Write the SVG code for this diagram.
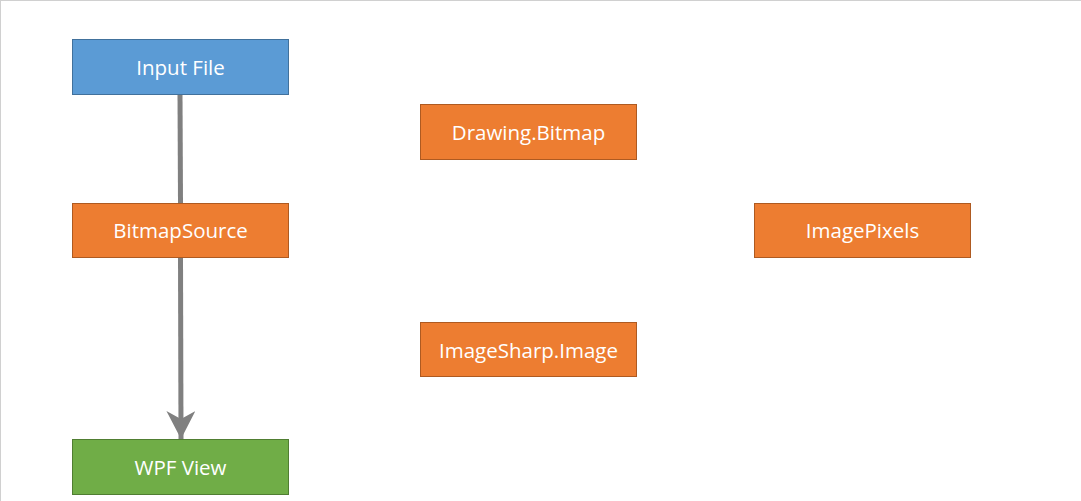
<svg xmlns="http://www.w3.org/2000/svg" width="1081" height="501" viewBox="0 0 1081 501">
  <style>
    .box { stroke-width: 1; }
    .blue { fill: #5b9bd5; stroke: #41719c; }
    .orange { fill: #ed7d31; stroke: #ae5a21; }
    .green { fill: #70ad47; stroke: #507e32; }
    .label { font-family: "Open Sans", "Liberation Sans", sans-serif; font-size: 20.5px; fill: #ffffff; text-anchor: middle; dominant-baseline: central; }
    .conn { stroke: #808080; stroke-width: 5; fill: none; }
  </style>
  <defs>
    <marker id="arrow" markerUnits="userSpaceOnUse" markerWidth="32" markerHeight="32" refX="28" refY="14.5" orient="auto">
      <path d="M0,0 L28,14.5 L0,29 L8,14.5 Z" fill="#808080"/>
    </marker>
  </defs>
  <rect x="0" y="0" width="1081" height="501" fill="#ffffff"/>
  <line x1="0" y1="0.5" x2="1081" y2="0.5" stroke="#d0d0d0" stroke-width="1"/>
  <line x1="0.5" y1="0" x2="0.5" y2="501" stroke="#d0d0d0" stroke-width="1"/>

  <g id="connectors">
    <line class="conn" x1="180" y1="94" x2="180.5" y2="203"/>
    <line class="conn" x1="180.5" y1="257" x2="181" y2="439" marker-end="url(#arrow)"/>
  </g>

  <g id="input-file">
    <rect class="box blue" x="72.5" y="39.5" width="216" height="55"/>
    <text class="label" x="180.5" y="67">Input File</text>
  </g>
  <g id="bitmap-source">
    <rect class="box orange" x="72.5" y="203.5" width="216" height="54"/>
    <text class="label" x="180.5" y="230">BitmapSource</text>
  </g>
  <g id="wpf-view">
    <rect class="box green" x="72.5" y="439.5" width="216" height="55"/>
    <text class="label" x="180.5" y="467">WPF View</text>
  </g>
  <g id="drawing-bitmap">
    <rect class="box orange" x="420.5" y="104.5" width="216" height="55"/>
    <text class="label" x="528.5" y="132">Drawing.Bitmap</text>
  </g>
  <g id="image-pixels">
    <rect class="box orange" x="754.5" y="203.5" width="216" height="54"/>
    <text class="label" x="862.5" y="230">ImagePixels</text>
  </g>
  <g id="imagesharp-image">
    <rect class="box orange" x="420.5" y="322.5" width="216" height="54"/>
    <text class="label" x="528.5" y="350">ImageSharp.Image</text>
  </g>
</svg>
